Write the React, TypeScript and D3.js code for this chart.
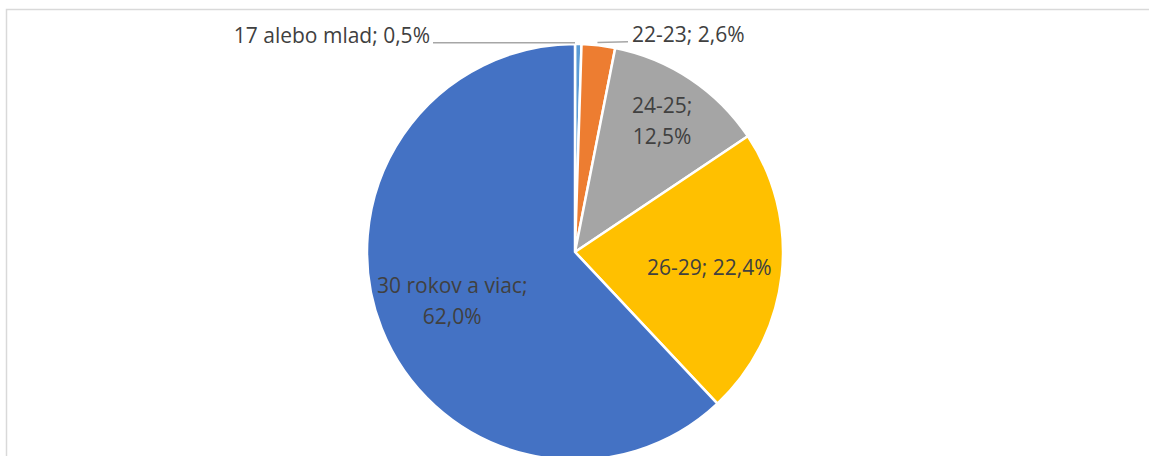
import React from 'react';
import * as d3 from 'd3';

const categories = ['17 alebo mlad', '22-23', '24-25', '26-29', '30 rokov a viac'];
const shares = [0.5, 2.6, 12.5, 22.4, 62.0];
const colors = ['#5B9BD5', '#ED7D31', '#A5A5A5', '#FFC000', '#4472C4'];

// label layout: 'out-left' / 'out-right' use leader lines, others sit inside the slice
const labelMode = ['out-left', 'out-right', 'in', 'in', 'in'];
const labelRadius = [1, 1, 0.755, 0.65, 0.635];
const labelWrap = [false, false, true, false, true];

const W = 1149;
const H = 456;
const cx = 575;
const cy = 252;
const R = 208;
const fontSize = 21;
const lineH = 31;

const fmt = (v: number) => v.toFixed(1).replace('.', ',') + '%';

function App() {
  const pie = d3.pie<number>().sort(null).value(d => d);
  const arcs = pie(shares);
  const arc = d3.arc<d3.PieArcDatum<number>>().innerRadius(0).outerRadius(R);

  const labels = arcs.map((a, i) => {
    const mid = (a.startAngle + a.endAngle) / 2;
    const text = categories[i] + '; ' + fmt(shares[i]);
    if (labelMode[i] === 'in') {
      const r = R * labelRadius[i];
      const x = Math.sin(mid) * r;
      const y = -Math.cos(mid) * r;
      if (labelWrap[i]) {
        const lines = [categories[i] + ';', fmt(shares[i])];
        return (
          <text key={i} x={x} y={y - lineH / 2 + 0.36 * fontSize} textAnchor="middle">
            {lines.map((l, j) => (
              <tspan key={j} x={x} dy={j === 0 ? 0 : lineH}>{l}</tspan>
            ))}
          </text>
        );
      }
      return (
        <text key={i} x={x} y={y + 0.36 * fontSize} textAnchor="middle">{text}</text>
      );
    }
    const px = Math.sin(mid) * R;
    if (labelMode[i] === 'out-left') {
      const ly = -R - 1.3;
      const endX = -142;
      return (
        <g key={i}>
          <line x1={0} y1={ly} x2={endX} y2={ly} stroke="#A6A6A6" strokeWidth={1.5} />
          <text x={endX - 3} y={ly} textAnchor="end">{text}</text>
        </g>
      );
    }
    const ly = -R - 2.3;
    const endX = 53;
    return (
      <g key={i}>
        <line x1={px - 1} y1={ly + 0.8} x2={endX} y2={ly} stroke="#A6A6A6" strokeWidth={1.5} />
        <text x={endX + 4} y={ly} textAnchor="start">{text}</text>
      </g>
    );
  });

  return (
    <div style={{ position: 'fixed', left: 0, top: 0 }}>
      <svg width={W} height={H} style={{ display: 'block', background: '#fff' }}>
        <rect x={6.5} y={9.5} width={W + 20} height={H + 20} fill="#fff" stroke="#D9D9D9" strokeWidth={1.5} />
        <g transform={`translate(${cx},${cy})`}>
          {arcs.map((a, i) => (
            <path key={i} d={arc(a) || ''} fill={colors[i]} stroke="#fff" strokeWidth={2.5} strokeLinejoin="round" />
          ))}
          <g fontFamily="'Open Sans', sans-serif" fontSize={fontSize} fill="#404040">
            {labels}
          </g>
        </g>
      </svg>
    </div>
  );
}

export default App;
